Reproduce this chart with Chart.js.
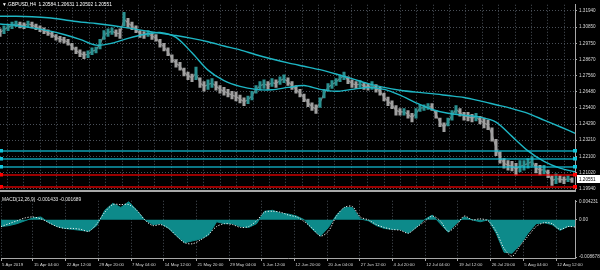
<!DOCTYPE html>
<html>
<head>
<meta charset="utf-8">
<title>GBPUSD,H4</title>
<script src="https://cdn.jsdelivr.net/npm/chart.js@4.4.1/dist/chart.umd.min.js"></script>
<style>
  html, body { margin: 0; padding: 0; background: #000; }
  .box { position: relative; width: 600px; height: 270px; overflow: hidden; background: #000; }
  canvas { position: absolute; left: 0; }
  #main { top: 0; }
  #macd { top: 196px; }
</style>
</head>
<body>
<div class="box">
  <canvas id="main" width="600" height="196"></canvas>
  <canvas id="macd" width="600" height="74"></canvas>
</div>
<script>
// GBPUSD H4, one sample every 4 bars (high / low of the span)
const highs = [
  1.3074,1.3093,1.3106,1.3119,1.3126,1.3119,1.3113,1.3126,1.3119,1.3106,
  1.3093,1.3080,1.3067,1.3054,1.3035,1.3022,1.3015,1.3002,1.2976,1.2950,
  1.2931,1.2918,1.2924,1.2944,1.2950,1.3002,1.3061,1.3074,1.3080,1.3067,
  1.3074,1.3184,1.3145,1.3119,1.3093,1.3061,1.3054,1.3061,1.3048,1.3035,
  1.3002,1.2976,1.2944,1.2898,1.2866,1.2846,1.2807,1.2781,1.2768,1.2814,
  1.2742,1.2716,1.2729,1.2736,1.2716,1.2690,1.2677,1.2664,1.2651,1.2645,
  1.2625,1.2606,1.2619,1.2651,1.2690,1.2716,1.2729,1.2716,1.2736,1.2729,
  1.2749,1.2762,1.2742,1.2716,1.2690,1.2664,1.2632,1.2599,1.2573,1.2560,
  1.2606,1.2664,1.2703,1.2723,1.2736,1.2762,1.2781,1.2749,1.2729,1.2716,
  1.2723,1.2710,1.2703,1.2716,1.2697,1.2677,1.2638,1.2612,1.2586,1.2554,
  1.2534,1.2534,1.2521,1.2502,1.2534,1.2560,1.2560,1.2567,1.2567,1.2521,
  1.2469,1.2437,1.2469,1.2521,1.2554,1.2534,1.2508,1.2508,1.2495,1.2502,
  1.2482,1.2469,1.2456,1.2404,1.2326,1.2242,1.2196,1.2183,1.2177,1.2164,
  1.2183,1.2183,1.2196,1.2209,1.2164,1.2151,1.2151,1.2118,1.2079,1.2092,
  1.2079,1.2073,1.2079,1.2066
]
const lows = [
  1.3022,1.3041,1.3061,1.3074,1.3087,1.3080,1.3074,1.3087,1.3080,1.3067,
  1.3054,1.3041,1.3028,1.3015,1.2996,1.2983,1.2976,1.2963,1.2931,1.2905,
  1.2885,1.2872,1.2879,1.2898,1.2911,1.2937,1.3002,1.3022,1.3035,1.3022,
  1.3009,1.3093,1.3080,1.3067,1.3048,1.3015,1.3009,1.3022,1.3002,1.2989,
  1.2950,1.2924,1.2892,1.2846,1.2814,1.2794,1.2755,1.2729,1.2716,1.2729,
  1.2677,1.2651,1.2664,1.2677,1.2658,1.2638,1.2625,1.2612,1.2599,1.2586,
  1.2573,1.2554,1.2567,1.2593,1.2638,1.2658,1.2671,1.2664,1.2684,1.2677,
  1.2697,1.2710,1.2690,1.2664,1.2638,1.2612,1.2580,1.2547,1.2521,1.2502,
  1.2541,1.2606,1.2651,1.2671,1.2690,1.2716,1.2729,1.2703,1.2677,1.2671,
  1.2677,1.2664,1.2658,1.2664,1.2645,1.2625,1.2586,1.2554,1.2534,1.2489,
  1.2489,1.2489,1.2469,1.2443,1.2469,1.2515,1.2521,1.2528,1.2521,1.2469,
  1.2411,1.2378,1.2417,1.2456,1.2502,1.2482,1.2456,1.2450,1.2443,1.2450,
  1.2430,1.2404,1.2391,1.2313,1.2216,1.2164,1.2131,1.2118,1.2112,1.2086,
  1.2105,1.2118,1.2131,1.2144,1.2099,1.2086,1.2092,1.2066,1.2014,1.2027,
  1.2034,1.2027,1.2040,1.2034
]
// moving averages, one point every 16 bars
const maSlow = [
  1.3158,1.3158,1.3155,1.3148,1.3135,1.3119,1.3109,1.3096,1.3080,1.3061,
  1.3044,1.3028,1.3009,1.2986,1.2957,1.2931,1.2898,1.2869,1.2843,1.2820,
  1.2797,1.2768,1.2736,1.2703,1.2677,1.2658,1.2645,1.2635,1.2622,1.2609,
  1.2586,1.2560,1.2534,1.2502,1.2456,1.2411,1.2365
]
const maFast = [
  1.3106,1.3096,1.3080,1.3061,1.3035,1.3002,1.2963,1.2976,1.3009,1.3035,
  1.3048,1.3015,1.2911,1.2794,1.2723,1.2684,1.2664,1.2661,1.2677,1.2690,
  1.2664,1.2651,1.2664,1.2677,1.2664,1.2625,1.2573,1.2528,1.2502,1.2489,
  1.2476,1.2443,1.2346,1.2248,1.2177,1.2131,1.2105
]
const levels = [1.2246, 1.2191, 1.2138, 1.2082, 1.2004]
const levelColors = ['#12c6dc', '#12c6dc', '#12c6dc', '#ff0000', '#ff0000']
const priceTicks = [1.31940, 1.30850, 1.29750, 1.28670, 1.27560, 1.26480, 1.25400, 1.24290, 1.23210, 1.22100, 1.21020, 1.19940]
const lastBar = [1.20584, 1.20631, 1.20502, 1.20551]

// MACD(12,26,9), one point every 8 bars
const macdMain = [
  -0.00156,-0.00134,-0.00089,-0.00022,0.00045,0.00067,-0.00067,-0.00156,-0.00200,-0.00223,
  -0.00245,-0.00267,-0.00134,0.00223,0.00385,0.00289,0.00423,0.00223,0,-0.00111,
  -0.00089,-0.00200,-0.00378,-0.00534,-0.00490,-0.00445,-0.00356,-0.00045,-0.00089,-0.00089,
  -0.00156,-0.00178,-0.00089,0.00200,0.00223,0.00156,0.00134,0.00089,0,-0.00223,
  -0.00378,-0.00178,0.00111,0.00289,0.00289,0.00022,-0.00022,-0.00134,-0.00200,-0.00223,
  -0.00223,-0.00312,-0.00178,0,0.00111,-0.00089,-0.00289,-0.00089,0.00067,0,
  -0.00045,0,-0.00312,-0.00757,-0.00780,-0.00579,-0.00312,-0.00089,-0.00067,-0.00111,
  -0.00245,-0.00156,-0.00143
]
const macdSignal = [
  -0.00156,-0.00089,-0.00022,0.00045,0.00067,0.00022,-0.00067,-0.00156,-0.00200,-0.00200,
  -0.00223,-0.00267,-0.00089,0.00178,0.00356,0.00356,0.00356,0.00223,0,-0.00134,
  -0.00111,-0.00200,-0.00378,-0.00534,-0.00557,-0.00467,-0.00334,-0.00156,-0.00089,-0.00111,
  -0.00178,-0.00156,-0.00022,0.00178,0.00200,0.00178,0.00111,0.00067,-0.00045,-0.00200,
  -0.00378,-0.00267,0.00089,0.00289,0.00312,0.00067,0,-0.00111,-0.00178,-0.00223,
  -0.00245,-0.00312,-0.00178,-0.00045,0.00089,-0.00022,-0.00267,-0.00134,0.00089,0,
  0.00022,-0.00022,-0.00267,-0.00668,-0.00850,-0.00601,-0.00378,-0.00156,-0.00067,-0.00089,
  -0.00223,-0.00156,-0.00169
]
const macdTicks = [0.004231, 0, -0.008678]
const macdTickText = ['0.004231', '0.00', '-0.008678']
const timeLabels = ['5 Apr 2019', '15 Apr 04:00', '22 Apr 12:00', '29 Apr 20:00', '7 May 04:00', '14 May 12:00',
  '21 May 20:00', '29 May 04:00', '5 Jun 12:00', '12 Jun 20:00', '20 Jun 04:00', '27 Jun 12:00',
  '4 Jul 20:00', '12 Jul 04:00', '19 Jul 12:00', '26 Jul 20:00', '5 Aug 04:00', '12 Aug 12:00']

const xMax = 143.75          // visible width in samples
const labelStep = 8.1875     // samples between time labels
const timeAt = timeLabels.map((t, k) => k === 0 ? 0 : 8 + labelStep * (k - 1))
const gridAt = []
for (let v = 8 - labelStep / 2; v < xMax; v += labelStep / 2) gridAt.push(v)

const fam = "'Liberation Sans', Arial, sans-serif"
const gridCol = '#4a5058'
const axisCol = '#a8a8a8'
const textCol = '#d8d8d8'
const bull = '#2a9090'
const bear = '#a0a0a0'
const maCol = '#1eb6c4'

const mainExtras = {
    id: 'mainExtras',
    afterDatasetsDraw(chart){
        const {ctx, chartArea: a, scales: {y}} = chart
        ctx.save()
        levels.forEach(function(lv, i){
            const py = Math.round(y.getPixelForValue(lv))
            ctx.fillStyle = levelColors[i]
            ctx.fillRect(a.left, py - 0.6, a.right - a.left, 1.2)
            ctx.fillRect(a.left, py - 2, 3, 3.5)
            ctx.fillRect(a.right - 2, py - 2, 4, 3.5)
        })
        ctx.restore()
    },
    afterDraw(chart){
        const {ctx, chartArea: a, scales: {y}} = chart
        ctx.save()
        ctx.font = '4.8px ' + fam
        ctx.textBaseline = 'middle'
        ctx.fillStyle = '#ffffff'
        ctx.fillText('\u25BC GBPUSD,H4  ' + lastBar.map(v => v.toFixed(5)).join(' '), 2, 4.5)
        const py = Math.round(y.getPixelForValue(lastBar[3]))
        ctx.fillStyle = '#ffffff'
        ctx.fillRect(a.right + 2, py - 4, 23, 8)
        ctx.fillStyle = '#000000'
        ctx.font = '4.6px ' + fam
        ctx.fillText(lastBar[3].toFixed(5), a.right + 4, py + 0.5)
        ctx.restore()
    }
}

const macdExtras = {
    id: 'macdExtras',
    afterDraw(chart){
        const ctx = chart.ctx
        ctx.save()
        ctx.font = '4.8px ' + fam
        ctx.textBaseline = 'middle'
        ctx.fillStyle = '#e8e8e8'
        ctx.fillText('MACD(12,26,9) -0.001433 -0.001689', 2, 4)
        ctx.restore()
    }
}

const barColor = function(c){
    const i = c.dataIndex
    if (i === 0) return bear
    return highs[i] + lows[i] >= highs[i - 1] + lows[i - 1] ? bull : bear
}

const mainChart = new Chart(document.getElementById('main'), {
    type: 'bar',
    data: {
        datasets: [
            {
                type: 'line', order: 1,
                data: maSlow.map((v, i) => ({x: i * 4, y: v})),
                borderColor: maCol, borderWidth: 1.4, pointRadius: 0, tension: 0.3
            },
            {
                type: 'line', order: 1,
                data: maFast.map((v, i) => ({x: i * 4, y: v})),
                borderColor: maCol, borderWidth: 1.4, pointRadius: 0, tension: 0.3
            },
            {
                // trace joining the ranges
                type: 'line', order: 3,
                data: highs.map((h, i) => ({x: i, y: (h + lows[i]) / 2})),
                borderColor: '#8a8a8a', borderWidth: 1.2, pointRadius: 0, tension: 0
            },
            {
                type: 'bar', order: 2,
                data: highs.map((h, i) => ({x: i, y: [lows[i], h]})),
                backgroundColor: barColor,
                barThickness: 2.4, borderWidth: 0
            }
        ]
    },
    options: {
        responsive: false,
        animation: false,
        layout: {padding: 0},
        plugins: {legend: {display: false}, tooltip: {enabled: false}},
        scales: {
            x: {
                type: 'linear', min: 0, max: xMax, offset: false,
                afterBuildTicks: s => { s.ticks = gridAt.map(v => ({value: v})) },
                ticks: {display: false},
                grid: {color: gridCol, drawTicks: false},
                border: {display: true, color: axisCol, width: 2, dash: [1, 2]},
                afterFit: s => { s.height = 2 }
            },
            y: {
                position: 'right', min: 1.1975, max: 1.3236,
                afterBuildTicks: s => { s.ticks = priceTicks.map(v => ({value: v})) },
                ticks: {
                    color: textCol, font: {family: fam, size: 4.6}, padding: 2, autoSkip: false,
                    callback: v => v.toFixed(5)
                },
                grid: {color: gridCol, tickColor: axisCol, tickLength: 2, tickBorderDash: []},
                border: {display: true, color: axisCol, dash: [1, 2]},
                afterFit: s => { s.width = 25 }
            }
        }
    },
    plugins: [mainExtras]
})

const macdChart = new Chart(document.getElementById('macd'), {
    type: 'line',
    data: {
        datasets: [
            {
                data: macdMain.map((v, i) => ({x: i * 2, y: v})),
                borderColor: '#0d8a8a', backgroundColor: '#0d8a8a', borderWidth: 1,
                fill: 'origin', pointRadius: 0, order: 2
            },
            {
                data: macdSignal.map((v, i) => ({x: i * 2, y: v})),
                borderColor: '#f0f0f0', borderWidth: 1, borderDash: [1.2, 1.6],
                fill: false, pointRadius: 0, tension: 0.3, order: 1
            }
        ]
    },
    options: {
        responsive: false,
        animation: false,
        layout: {padding: {top: 2}},
        plugins: {legend: {display: false}, tooltip: {enabled: false}},
        scales: {
            x: {
                type: 'linear', min: 0, max: xMax, offset: false,
                afterBuildTicks: s => { s.ticks = timeAt.map(v => ({value: v})) },
                ticks: {
                    align: 'start', autoSkip: false, maxRotation: 0, labelOffset: 1, padding: 1,
                    color: textCol, font: {family: fam, size: 4.3},
                    callback: (v, i) => timeLabels[i]
                },
                grid: {color: gridCol, tickColor: axisCol, tickLength: 3, tickBorderDash: []},
                border: {display: true, color: axisCol, dash: [1, 2]},
                afterFit: s => { s.height = 12 }
            },
            y: {
                position: 'right', min: -0.008901, max: 0.004454,
                afterBuildTicks: s => { s.ticks = macdTicks.map(v => ({value: v})) },
                ticks: {
                    color: textCol, font: {family: fam, size: 4.6}, padding: 2, autoSkip: false,
                    callback: (v, i) => macdTickText[i]
                },
                grid: {drawOnChartArea: false, tickColor: axisCol, tickLength: 2},
                border: {display: true, color: axisCol},
                afterFit: s => { s.width = 25 }
            }
        }
    },
    plugins: [macdExtras]
})
</script>
</body>
</html>
